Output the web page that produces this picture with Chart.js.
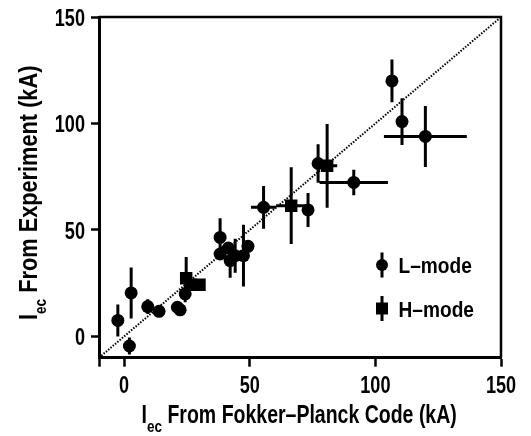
<!DOCTYPE html>
<html>
<head>
<meta charset="utf-8">
<script src="https://cdn.jsdelivr.net/npm/chart.js@4/dist/chart.umd.min.js"></script>
<style>
  html, body { margin: 0; padding: 0; background: #fff; }
  canvas { display: block; }
</style>
</head>
<body>
<canvas id="iecChart" width="531" height="436"></canvas>
<script>
// L-mode discharges: Fokker-Planck prediction vs measured current (kA)
const lModeX    = [-2.5, 2.8, 2.1, 9.4, 13.9, 21.2, 22.3, 24.3, 38.2, 41.5, 38.2, 42.2, 44.2, 47.5, 49.3, 55.5, 73.2, 77.2, 91.4, 106.6, 110.6, 119.9];
const lModeY    = [7.5, 20.4, -4.5, 14.0, 11.8, 13.7, 12.5, 20.0, 46.5, 41.5, 38.7, 35.6, 37.9, 37.9, 42.3, 60.6, 59.4, 81.2, 72.3, 120.0, 100.9, 93.9];
const lModeXErr = [0, 0, 0, 0, 0, 0, 0, 0, 0, 3, 0, 0, 0, 0, 0, 5, 0, 0, 13.6, 0, 0, 16.5];
const lModeYErr = [7.5, 12, 4, 3.5, 0, 0, 0, 4, 9, 0, 0, 8, 8, 14.5, 0, 10, 8, 9, 6, 10, 11, 14.3];

// H-mode discharges
const hModeX    = [24.7, 26.5, 30.0, 66.5, 80.8];
const hModeY    = [27.3, 24.3, 24.3, 61.4, 80.1];
const hModeXErr = [0, 0, 0, 6, 4];
const hModeYErr = [10, 0, 0, 18, 19.7];

// axes
const axisMin = -10;
const axisMax = 150;
const xTicks = [-10, 0, 50, 100, 150];
const xTickLabels = ["", "0", "50", "100", "150"];
const yTicks = [0, 50, 100, 150];
const yTickLabels = ["0", "50", "100", "150"];
const diagonal = [-10, 150];

// no condensed face installed, so text is squeezed horizontally
const FONT_FAMILY = '"Liberation Sans", Arial, sans-serif';

function points(xs, ys) {
  return xs.map((x, i) => ({ x: x, y: ys[i] }));
}

function narrowWidth(ctx, text, size, sx) {
  ctx.font = "bold " + size + "px " + FONT_FAMILY;
  return ctx.measureText(text).width * sx;
}

function drawNarrow(ctx, text, x, y, size, sx, align, baseline) {
  ctx.save();
  ctx.font = "bold " + size + "px " + FONT_FAMILY;
  ctx.textAlign = align || "left";
  ctx.textBaseline = baseline || "alphabetic";
  ctx.translate(x, y);
  ctx.scale(sx, 1);
  ctx.fillText(text, 0, 0);
  ctx.restore();
}

// vertical / horizontal error bars, drawn under the markers
const errorBars = {
  id: "errorBars",
  beforeDatasetsDraw(chart) {
    const { ctx, scales: { x, y } } = chart;
    ctx.save();
    ctx.strokeStyle = "#000";
    ctx.lineWidth = 3;
    ctx.beginPath();
    chart.data.datasets.forEach(ds => {
      if (!ds.errors) return;
      ds.data.forEach((p, i) => {
        const px = x.getPixelForValue(p.x);
        const py = y.getPixelForValue(p.y);
        const ex = ds.errors.x[i];
        const ey = ds.errors.y[i];
        if (ex) {
          ctx.moveTo(x.getPixelForValue(p.x - ex), py);
          ctx.lineTo(x.getPixelForValue(p.x + ex), py);
        }
        if (ey) {
          ctx.moveTo(px, y.getPixelForValue(p.y - ey));
          ctx.lineTo(px, y.getPixelForValue(p.y + ey));
        }
      });
    });
    ctx.stroke();
    ctx.restore();
  }
};

// top and right frame lines
const frame = {
  id: "frame",
  beforeDraw(chart) {
    const { ctx, chartArea: a } = chart;
    ctx.save();
    ctx.strokeStyle = "#000";
    ctx.lineWidth = 2.5;
    ctx.beginPath();
    ctx.moveTo(a.left, a.top);
    ctx.lineTo(a.right, a.top);
    ctx.lineTo(a.right, a.bottom);
    ctx.stroke();
    ctx.restore();
  }
};

// tick labels at the scale's own tick positions
const tickLabels = {
  id: "tickLabels",
  afterDraw(chart) {
    const { ctx, scales: { x, y }, chartArea: a } = chart;
    ctx.save();
    ctx.fillStyle = "#000";
    xTicks.forEach((v, i) => {
      drawNarrow(ctx, xTickLabels[i], x.getPixelForValue(v), a.bottom + 35, 23.5, 0.77, "center");
    });
    yTicks.forEach((v, i) => {
      drawNarrow(ctx, yTickLabels[i], a.left - 14, y.getPixelForValue(v) + 9, 23.5, 0.77, "right");
    });
    ctx.restore();
  }
};

// "I" with subscript "ec", then the rest of the title
function drawSubTitle(ctx, rest, x0, baseline, sx) {
  drawNarrow(ctx, "I", x0, baseline, 25, sx);
  const wI = narrowWidth(ctx, "I", 25, sx);
  drawNarrow(ctx, "ec", x0 + wI, baseline + 9, 17, 0.8);
  const wSub = narrowWidth(ctx, "ec", 17, 0.8);
  drawNarrow(ctx, rest, x0 + wI + wSub, baseline, 25, sx);
}

const titlesAndKey = {
  id: "titlesAndKey",
  afterDraw(chart) {
    const { ctx, chartArea: a } = chart;
    ctx.save();
    ctx.fillStyle = "#000";
    drawSubTitle(ctx, " From Fokker\u2013Planck Code (kA)", 141.5, 423, 0.78);

    ctx.save();
    ctx.translate(36.5, 320);
    ctx.rotate(-Math.PI / 2);
    drawSubTitle(ctx, " From Experiment (kA)", 0, 0, 0.87);
    ctx.restore();

    // key
    const kx = a.right - 119;
    const rows = [
      { y: a.top + 248, label: "L\u2013mode", square: false },
      { y: a.top + 291.5, label: "H\u2013mode", square: true }
    ];
    ctx.strokeStyle = "#000";
    ctx.lineWidth = 3;
    rows.forEach(r => {
      ctx.beginPath();
      ctx.moveTo(kx, r.y - 12.5);
      ctx.lineTo(kx, r.y + 12.5);
      ctx.stroke();
      ctx.beginPath();
      if (r.square) ctx.rect(kx - 6, r.y - 6, 12, 12);
      else ctx.arc(kx, r.y, 6, 0, Math.PI * 2);
      ctx.fill();
      drawNarrow(ctx, r.label, kx + 16.5, r.y + 8, 22.5, 0.85);
    });
    ctx.restore();
  }
};

new Chart(document.getElementById("iecChart"), {
  type: "scatter",
  data: {
    datasets: [
      {
        type: "line",
        label: "equality",
        data: points(diagonal, diagonal),
        borderColor: "#000",
        borderWidth: 2,
        borderDash: [1.5, 1.5],
        pointRadius: 0,
        fill: false
      },
      {
        label: "L\u2013mode",
        data: points(lModeX, lModeY),
        errors: { x: lModeXErr, y: lModeYErr },
        pointStyle: "circle",
        pointRadius: 6.5,
        backgroundColor: "#000",
        borderColor: "#000",
        borderWidth: 0
      },
      {
        label: "H\u2013mode",
        data: points(hModeX, hModeY),
        errors: { x: hModeXErr, y: hModeYErr },
        pointStyle: "rect",
        pointRadius: 8.8,
        backgroundColor: "#000",
        borderColor: "#000",
        borderWidth: 0
      }
    ]
  },
  options: {
    responsive: false,
    animation: false,
    devicePixelRatio: 1,
    layout: { padding: { left: 0, right: 30, top: 17, bottom: 0 } },
    plugins: {
      legend: { display: false },
      tooltip: { enabled: false }
    },
    scales: {
      x: {
        type: "linear",
        min: axisMin,
        max: axisMax,
        afterBuildTicks: s => { s.ticks = xTicks.map(v => ({ value: v })); },
        afterFit: s => { s.height = 78.3; },
        ticks: { display: false },
        grid: {
          drawOnChartArea: false,
          drawTicks: true,
          tickLength: 9,
          tickWidth: 2.5,
          tickColor: "#000"
        },
        border: { display: true, color: "#000", width: 3 }
      },
      y: {
        type: "linear",
        min: axisMin,
        max: axisMax,
        afterBuildTicks: s => { s.ticks = yTicks.map(v => ({ value: v })); },
        afterFit: s => { s.width = 99; },
        ticks: { display: false },
        grid: {
          drawOnChartArea: false,
          drawTicks: true,
          tickLength: 8,
          tickWidth: 2.5,
          tickColor: "#000"
        },
        border: { display: true, color: "#000", width: 3 }
      }
    }
  },
  plugins: [frame, errorBars, tickLabels, titlesAndKey]
});
</script>
</body>
</html>
